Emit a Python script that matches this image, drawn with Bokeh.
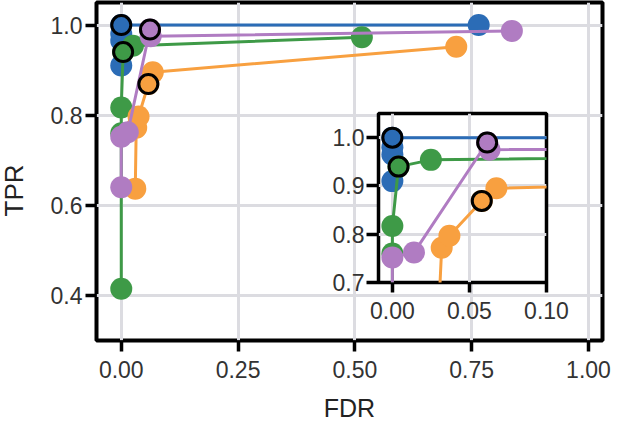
import math
from bokeh.plotting import figure
from bokeh.models import Range1d, FixedTicker, NumeralTickFormatter
from bokeh.core.properties import value
from bokeh.layouts import column
from bokeh.embed import file_html
from bokeh.resources import INLINE

# ---- data ----
fdr_blue = [0.0, 0.0, 0.0, 0.0, 0.765]
tpr_blue = [0.91, 0.965, 0.98, 1.0, 1.0]
hl_blue = 3

fdr_green = [0.0, 0.0, 0.0, 0.004, 0.025, 0.515]
tpr_green = [0.415, 0.76, 0.817, 0.94, 0.954, 0.973]
hl_green = 3

fdr_orange = [0.030, 0.032, 0.037, 0.058, 0.0675, 0.717]
tpr_orange = [0.637, 0.772, 0.797, 0.869, 0.895, 0.952]
hl_orange = 3

fdr_purple = [0.0, 0.0, 0.014, 0.0615, 0.063, 0.836]
tpr_purple = [0.64, 0.752, 0.762, 0.99, 0.975, 0.987]
hl_purple = 3

main_x_ticks = [0.0, 0.25, 0.5, 0.75, 1.0]
main_y_ticks = [0.4, 0.6, 0.8, 1.0]
inset_x_ticks = [0.0, 0.05, 0.10]
inset_y_ticks = [0.7, 0.8, 0.9, 1.0]

x_title = "FDR"
y_title = "TPR"

colors = {"blue": "#2b6cb6", "green": "#3e9a47", "orange": "#f8a040", "purple": "#b07cc2"}
series = [
    ("blue", fdr_blue, tpr_blue, hl_blue),
    ("green", fdr_green, tpr_green, hl_green),
    ("orange", fdr_orange, tpr_orange, hl_orange),
    ("purple", fdr_purple, tpr_purple, hl_purple),
]

FONT = "Liberation Sans"
GRID = "#dcdce1"
BORDER_L, BORDER_R = 96, 26   # column aligns left/right borders of its plots


def style_axes(fig, xt, yt, xfmt, yfmt):
    fig.xaxis.ticker = FixedTicker(ticks=xt)
    fig.yaxis.ticker = FixedTicker(ticks=yt)
    fig.xaxis.formatter = NumeralTickFormatter(format=xfmt)
    fig.yaxis.formatter = NumeralTickFormatter(format=yfmt)
    for ax in (fig.xaxis, fig.yaxis):
        ax.axis_line_color = None
        ax.major_tick_line_color = "black"
        ax.major_tick_line_width = 3.5
        ax.major_tick_in = 0
        ax.minor_tick_line_color = None
        ax.major_label_text_font = FONT
        ax.major_label_text_font_size = "23px"
        ax.major_label_text_color = "#333333"
    fig.xgrid.ticker = FixedTicker(ticks=xt)
    fig.ygrid.ticker = FixedTicker(ticks=yt)
    for g in (fig.xgrid, fig.ygrid):
        g.grid_line_color = GRID
        g.grid_line_width = 3
    fig.outline_line_color = "black"


def draw(fig):
    for name, xs, ys, hl in series:
        fig.line(xs, ys, line_color=colors[name], line_width=3)
        fig.scatter(xs, ys, size=22, fill_color=colors[name], line_color=None)
    for name, xs, ys, hl in series:
        fig.scatter([xs[hl]], [ys[hl]], size=19, fill_color=colors[name],
                    line_color="black", line_width=3)


# ---- main plot ----
p = figure(frame_width=506, frame_height=338,
           min_border_left=BORDER_L, min_border_right=BORDER_R, min_border_top=2, min_border_bottom=81,
           x_range=Range1d(-0.053, 1.03), y_range=Range1d(0.30, 1.05),
           output_backend="svg", toolbar_location=None,
           background_fill_color="white", border_fill_color="white")
style_axes(p, main_x_ticks, main_y_ticks, "0.00", "0.0")
p.outline_line_width = 4
p.xaxis.major_tick_out = 11
p.yaxis.major_tick_out = 11
p.xaxis.major_label_standoff = 9
p.yaxis.major_label_standoff = 3
p.xaxis.axis_label = x_title
p.xaxis.axis_label_text_font = FONT
p.xaxis.axis_label_text_font_size = "25px"
p.xaxis.axis_label_text_font_style = "normal"
p.xaxis.axis_label_text_color = "#222222"
p.xaxis.axis_label_standoff = 13
draw(p)

# ---- inset ----
q = figure(frame_width=168, frame_height=169,
           min_border_left=BORDER_L, min_border_right=BORDER_R, min_border_top=5, min_border_bottom=45,
           x_range=Range1d(-0.009, 0.10), y_range=Range1d(0.70, 1.05),
           output_backend="svg", toolbar_location=None,
           background_fill_color="white", border_fill_color=None,
           styles={"position": "absolute", "left": "282px", "top": "108px"})
style_axes(q, inset_x_ticks, inset_y_ticks, "0.00", "0.0")
q.outline_line_width = 3.5
q.xaxis.major_tick_out = 10
q.yaxis.major_tick_out = 12
q.xaxis.major_label_standoff = 9
q.yaxis.major_label_standoff = 2
draw(q)

# ---- y title (vertical text placed left of the main axis) ----
r = figure(frame_width=40, frame_height=80,
           min_border_left=BORDER_L, min_border_right=BORDER_R, min_border_top=0, min_border_bottom=0,
           x_range=Range1d(-1, 1), y_range=Range1d(-1, 1),
           x_axis_type=None, y_axis_type=None,
           output_backend="svg", toolbar_location=None,
           background_fill_color=None, border_fill_color=None, outline_line_color=None,
           styles={"position": "absolute", "left": "-103px", "top": "150px"})
r.grid.visible = False
r.text(x=[0], y=[0], text=[y_title], angle=math.pi / 2,
       text_align="center", text_baseline="middle",
       text_font=value(FONT), text_font_size="26px", text_color="#222222")

root = column(p, q, r, styles={"position": "absolute", "left": "0px", "top": "0px"})

open("out.html", "w").write(file_html(root, INLINE))
